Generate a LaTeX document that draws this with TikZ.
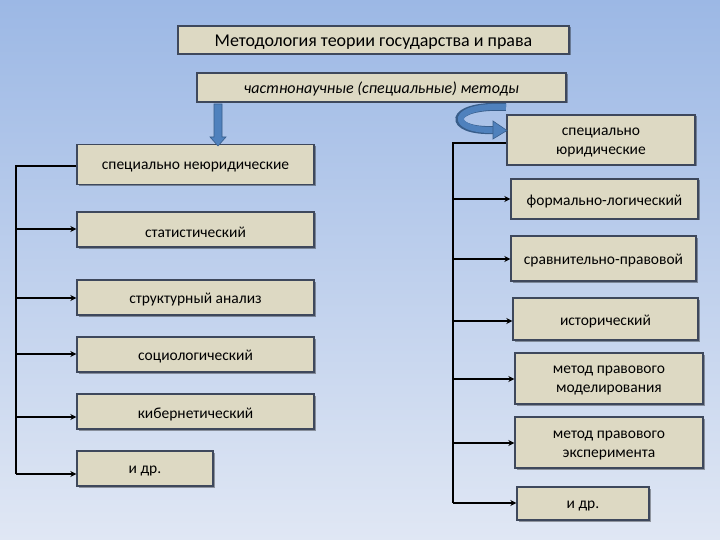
\documentclass[tikz,border=0pt]{standalone}
\usepackage{fontspec}
\setmainfont{Carlito}
\usetikzlibrary{arrows.meta,shadows}
\definecolor{bgtop}{RGB}{156,184,229}
\definecolor{bgbot}{RGB}{224,231,244}
\definecolor{boxfill}{RGB}{221,217,195}
\definecolor{boxline}{RGB}{62,72,92}
\definecolor{arrowblue}{RGB}{79,129,189}
\definecolor{arrowdark}{RGB}{56,93,138}
\tikzset{
  box/.style={draw=boxline, line width=1.4pt, fill=boxfill, inner sep=0pt,
    drop shadow={shadow xshift=1.5pt, shadow yshift=-1.5pt, opacity=0.35, fill=black}},
  lbl/.style={align=center, font=\fontsize{15.5}{19}\selectfont, yshift=-2.5pt, inner sep=0pt},
  conn/.style={draw=black, line width=1.8pt},
  arr/.style={conn, -{Stealth[length=6pt,width=6pt]}},
}
\begin{document}
\begin{tikzpicture}[x=1pt,y=-1pt]
\shade[top color=bgtop, bottom color=bgbot] (0,0) rectangle (720,540);
\useasboundingbox (0,0) rectangle (720,540);

% top boxes
\node[box, minimum width=391pt, minimum height=28pt,
  label={[lbl, font=\fontsize{18}{20}\selectfont, yshift=0.5pt]center:Методология теории государства и права}] (title) at (373.5,40) {};
\node[box, minimum width=369pt, minimum height=29pt,
  label={[lbl, font=\itshape\fontsize{16}{18}\selectfont, yshift=1pt]center:частнонаучные (специальные) методы}] (sub) at (381.5,87.5) {};

% left boxes
\node[box, minimum width=237pt, minimum height=40pt, label={[lbl]center:специально неюридические}] (l1) at (195.5,164.5) {};
\node[box, minimum width=237pt, minimum height=35pt, label={[lbl]center:статистический}] (l2) at (195.5,229.5) {};
\node[box, minimum width=237pt, minimum height=35pt, label={[lbl]center:структурный анализ}] (l3) at (195.5,297.5) {};
\node[box, minimum width=237pt, minimum height=35pt, label={[lbl]center:социологический}] (l4) at (195.5,354.5) {};
\node[box, minimum width=237pt, minimum height=35pt, label={[lbl]center:кибернетический}] (l5) at (195.5,411.5) {};
\node[box, minimum width=136pt, minimum height=35pt, label={[lbl]center:и др.}] (l6) at (145,468.5) {};

% right boxes
\node[box, minimum width=188pt, minimum height=50pt, label={[lbl]center:специально\\юридические}] (r1) at (601,140) {};
\node[box, minimum width=187pt, minimum height=40pt, label={[lbl]center:формально-логический}] (r2) at (604.5,199) {};
\node[box, minimum width=185pt, minimum height=45pt, label={[lbl]center:сравнительно-правовой}] (r3) at (603.5,258.5) {};
\node[box, minimum width=185pt, minimum height=42pt, label={[lbl]center:исторический}] (r4) at (605.5,319) {};
\node[box, minimum width=188pt, minimum height=51pt, label={[lbl]center:метод правового\\моделирования}] (r5) at (609,378.5) {};
\node[box, minimum width=188pt, minimum height=51pt, label={[lbl]center:метод правового\\эксперимента}] (r6) at (609,442.5) {};
\node[box, minimum width=132pt, minimum height=33pt, label={[lbl]center:и др.}] (r7) at (583,503.5) {};

% blue arrows
\fill[arrowblue, draw=arrowdark, line width=0.6pt]
  (214,104) -- (222,104) -- (222,137) -- (226,137) -- (218,146) -- (210,137) -- (214,137) -- cycle;
\draw[arrowdark, line width=8pt] (506,107) .. controls (446,104) and (446,132) .. (494,130);
\draw[arrowblue, line width=6pt] (506,107) .. controls (448,104.5) and (448,131) .. (494,130);
\fill[arrowblue, draw=arrowdark, line width=0.6pt] (493,121) -- (507,130.5) -- (493,139) -- cycle;

% left connectors
\coordinate (lt) at (16,166);
\coordinate (lb) at (16,474);
\coordinate (k2) at (16,229);
\coordinate (k3) at (16,298);
\coordinate (k4) at (16,354);
\coordinate (k5) at (16,417);
\draw[conn] (l1.west |- lt) -- (lt) -- (lb);
\draw[arr] (k2) -- (k2 -| l2.west);
\draw[arr] (k3) -- (k3 -| l3.west);
\draw[arr] (k4) -- (k4 -| l4.west);
\draw[arr] (k5) -- (k5 -| l5.west);
\draw[arr] (lb) -- (lb -| l6.west);

% right connectors
\coordinate (rt) at (453,143);
\coordinate (rb) at (453,503);
\coordinate (m2) at (453,199);
\coordinate (m3) at (453,259);
\coordinate (m4) at (453,321);
\coordinate (m5) at (453,379);
\coordinate (m6) at (453,443);
\draw[conn] (r1.west |- rt) -- (rt) -- (rb);
\draw[arr] (m2) -- (m2 -| r2.west);
\draw[arr] (m3) -- (m3 -| r3.west);
\draw[arr] (m4) -- (m4 -| r4.west);
\draw[arr] (m5) -- (m5 -| r5.west);
\draw[arr] (m6) -- (m6 -| r6.west);
\draw[arr] (rb) -- (rb -| r7.west);
\end{tikzpicture}
\end{document}
